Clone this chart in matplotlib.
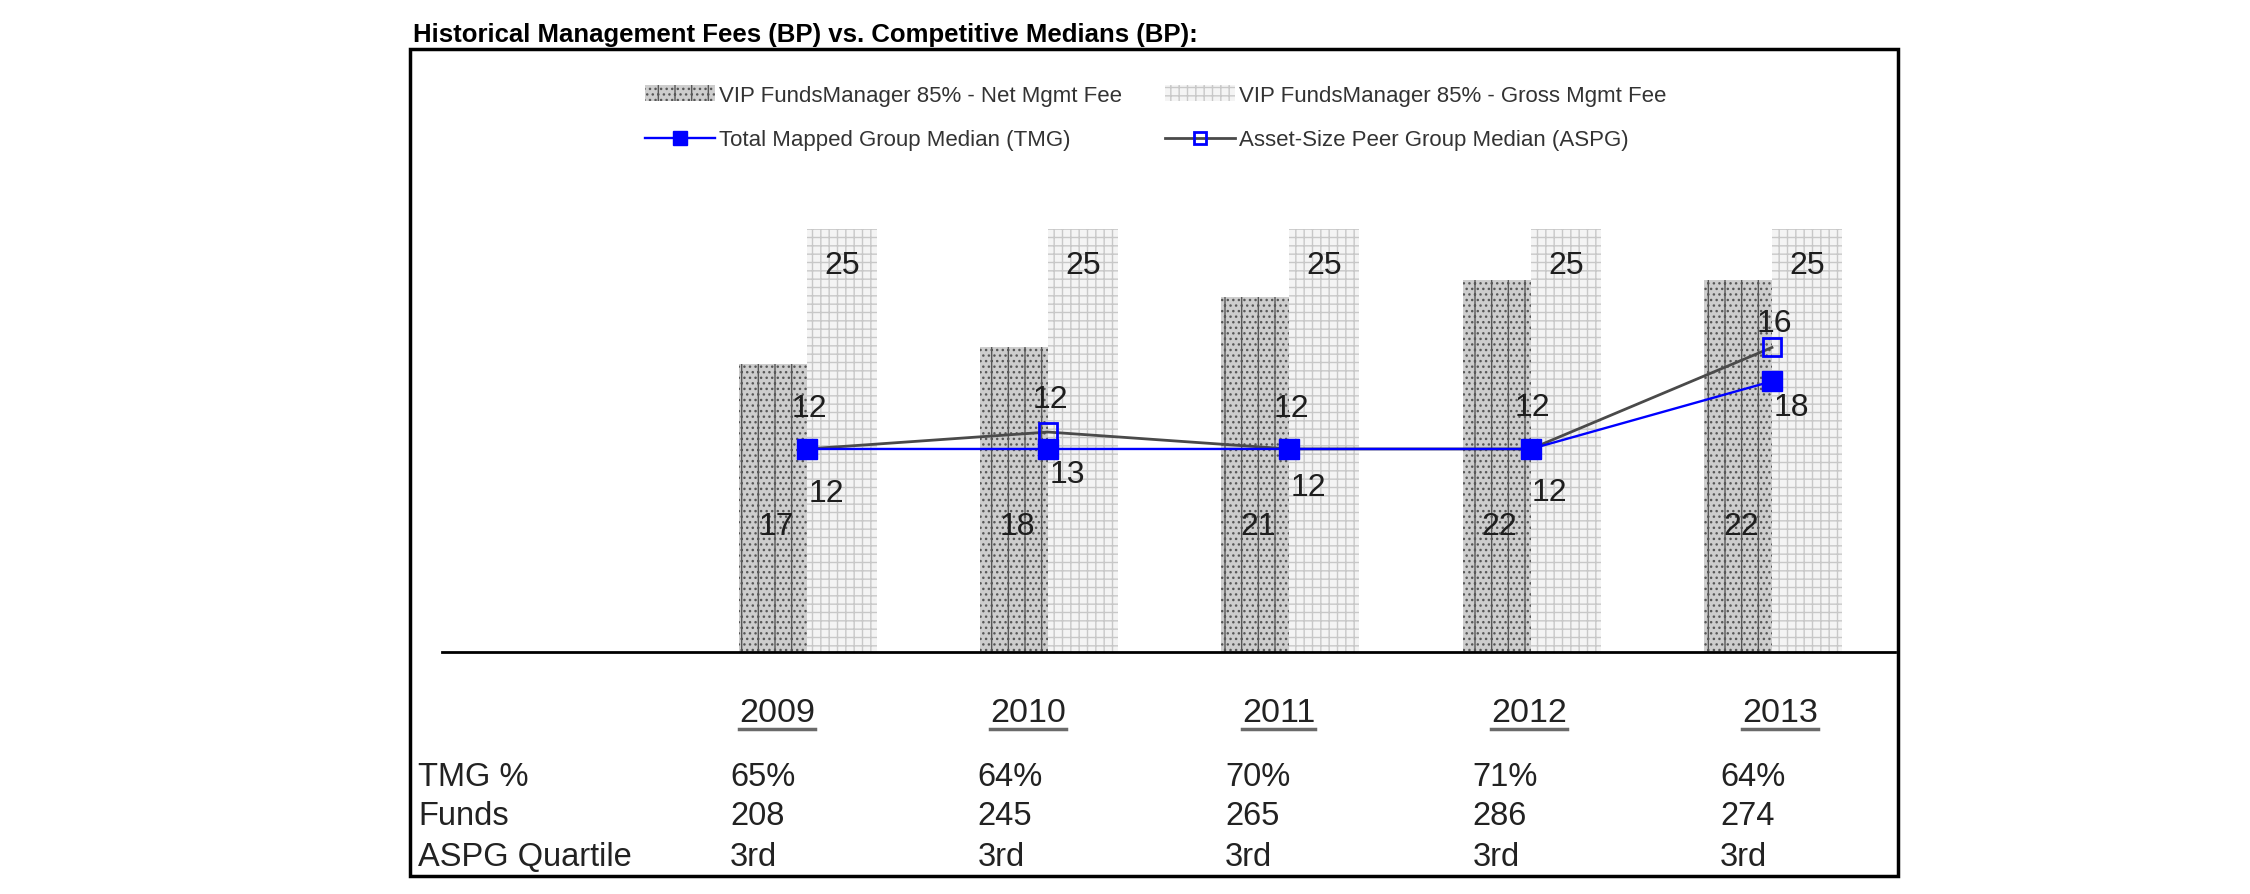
import numpy as np
import matplotlib

matplotlib.use("Agg")
import matplotlib.pyplot as plt
from matplotlib.lines import Line2D
from matplotlib.patches import Rectangle

# values
years = ["2009", "2010", "2011", "2012", "2013"]
net_fee = [17, 18, 21, 22, 22]
gross_fee = [25, 25, 25, 25, 25]
tmg_median = [12, 12, 12, 12, 16]
aspg_median = [12, 13, 12, 12, 18]

row_labels = ["TMG %", "Funds", "ASPG Quartile"]
tmg_pct = ["65%", "64%", "70%", "71%", "64%"]
funds = [208, 245, 265, 286, 274]
aspg_quartile = ["3rd", "3rd", "3rd", "3rd", "3rd"]

# vertical nudges (pixels) of the line value labels, as placed in the original
tmg_label_dy = [41, 50, 41, 42, 58]
aspg_label_dy = [-44, -42, -38, -43, -60]

plt.rcParams["font.family"] = ["Liberation Sans", "DejaVu Sans"]
plt.rcParams["hatch.linewidth"] = 1.0

W, H = 2250, 895
fig = plt.figure(figsize=(W / 100, H / 100), dpi=100)


def fx(px):
    return px / W


def fy(py):
    # pixel rows are counted from the top of the picture
    return 1 - py / H


ax = fig.add_axes([fx(442), fy(653), fx(1895) - fx(442), fy(50) - fy(653)])
ax.patch.set_visible(False)

x = np.arange(len(years))
bw = 0.282
net_bars = ax.bar(x, net_fee, width=-bw, align="edge", facecolor="#cdcdcd",
                  edgecolor="#575757", hatch="|...", linewidth=0,
                  label="VIP FundsManager 85% - Net Mgmt Fee")
gross_bars = ax.bar(x, gross_fee, width=0.29, align="edge", facecolor="#f4f4f4",
                    edgecolor="#c8c8c8", hatch="++", linewidth=0,
                    label="VIP FundsManager 85% - Gross Mgmt Fee")

aspg_line, = ax.plot(x, aspg_median, color="#4a4a4a", lw=2.0, marker="s", ms=12.5,
                     mfc="none", mec="#0000ff", mew=2, zorder=3,
                     label="Asset-Size Peer Group Median (ASPG)")
tmg_line, = ax.plot(x, tmg_median, color="#0000ff", lw=1.7, marker="s", ms=14.4,
                    mfc="#0000ff", mec="#0000ff", zorder=4,
                    label="Total Mapped Group Median (TMG)")

txt = dict(fontsize=23, color="#1e1e1e", ha="center", va="center",
           textcoords="offset pixels", zorder=5)
for bar, v in zip(gross_bars, gross_fee):
    ax.annotate(f"{v}", (bar.get_x() + bar.get_width() / 2, v), xytext=(0, -36), **txt)
for bar, v in zip(net_bars, net_fee):
    ax.annotate(f"{v}", (bar.get_x() + bar.get_width() / 2, 0), xytext=(3, 126), **txt)
for xi, v, dy in zip(x, tmg_median, tmg_label_dy):
    ax.annotate(f"{v}", (xi, v), xytext=(2, dy), **txt)
for xi, v, dy in zip(x, aspg_median, aspg_label_dy):
    ax.annotate(f"{v}", (xi, v), xytext=(19, dy), **txt)

ax.set_xlim(-1.513, 4.51)
ax.set_ylim(0, 35.64)
ax.set_xticks([])
ax.set_yticks([])
for side in ["top", "left", "right"]:
    ax.spines[side].set_visible(False)
ax.spines["bottom"].set_linewidth(2)
ax.spines["bottom"].set_color("black")

fig.legend(handles=[net_bars, tmg_line, gross_bars, aspg_line], ncol=2,
           loc="upper left", bbox_to_anchor=(fx(645), fy(86)), frameon=False,
           fontsize=16, labelcolor="#333333", handlelength=3.15, handletextpad=0.2,
           columnspacing=1.9, labelspacing=1.05, borderpad=0, borderaxespad=0,
           markerscale=0.7)

fig.text(fx(413), fy(42), "Historical Management Fees (BP) vs. Competitive Medians (BP):",
         fontsize=18.5, fontweight="bold", va="baseline")

# outer box
fig.add_artist(Rectangle((fx(410), fy(877)), fx(1898) - fx(410), fy(50) - fy(877),
                         transform=fig.transFigure, fill=False, lw=2.5, ec="black"))

# table under the chart
year_texts = []
for i, yr in enumerate(years):
    year_texts.append(fig.text(fx(777 + 250.75 * i), fy(714), yr, fontsize=24.5,
                               ha="center", va="center", color="#222222"))

rows = [tmg_pct, [str(f) for f in funds], aspg_quartile]
row_y = [778, 817, 858]
for label, vals, ry in zip(row_labels, rows, row_y):
    fig.text(fx(418), fy(ry), label, fontsize=23.5, ha="left", va="center", color="#222222")
    for i, v in enumerate(vals):
        fig.text(fx(730 + 247.5 * i), fy(ry), v, fontsize=23.5, ha="left", va="center",
                 color="#222222")

fig.canvas.draw()
renderer = fig.canvas.get_renderer()
for t in year_texts:
    bb = t.get_window_extent(renderer)
    fig.add_artist(Line2D([bb.x0 / W, bb.x1 / W], [fy(730), fy(730)],
                          transform=fig.transFigure, color="#6a6a6a", lw=2.5))

fig.savefig("out.png", dpi=100)
